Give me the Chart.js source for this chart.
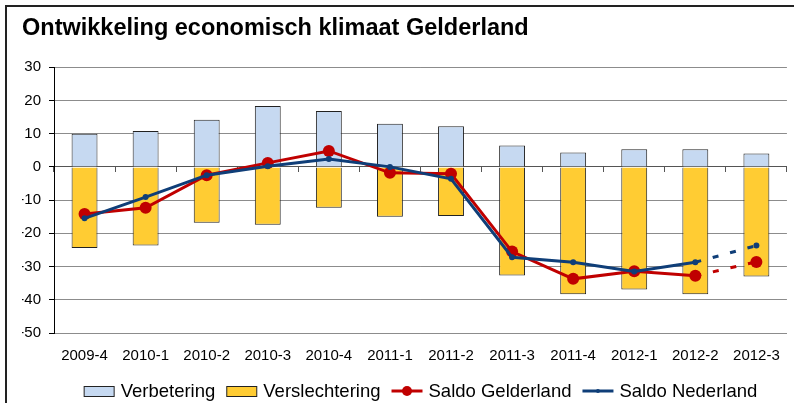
<!DOCTYPE html>
<html>
<head>
<meta charset="utf-8">
<title>Ontwikkeling economisch klimaat Gelderland</title>
<script src="https://cdn.jsdelivr.net/npm/chart.js@4"></script>
<style>
    html, body { margin: 0; padding: 0; background: #fff; overflow: hidden; }
    #wrap { position: relative; width: 794px; height: 403px; }
    #frame { position: absolute; left: 5px; top: 5px; width: 900px; height: 500px; border: 2px solid #222; pointer-events: none; }
    canvas { position: absolute; left: 0; top: 0; }
</style>
</head>
<body>
<div id="wrap">
    <canvas id="klimaatChart" width="794" height="403"></canvas>
    <div id="frame"></div>
</div>
<script>
const FONT = "'Liberation Sans', Arial, Helvetica, sans-serif";

// Data
const quarters = ['2009-4', '2010-1', '2010-2', '2010-3', '2010-4', '2011-1', '2011-2', '2011-3', '2011-4', '2012-1', '2012-2', '2012-3'];
const verbetering = [10.0, 10.8, 14.2, 18.3, 16.8, 13.0, 12.2, 6.4, 4.3, 5.3, 5.3, 4.0];
const verslechtering = [-24.4, -23.7, -16.8, -17.4, -12.3, -15.0, -14.8, -32.7, -38.3, -36.9, -38.3, -33.0];
const saldoGelderland = [-14.2, -12.3, -2.5, 1.2, 4.8, -1.8, -2.1, -25.5, -33.7, -31.4, -32.8, -28.6];
const saldoNederland = [-15.5, -9.1, -2.5, 0.2, 2.4, 0.0, -3.6, -27.2, -28.7, -31.5, -28.7, -23.7];
const yTicks = [30, 20, 10, 0, -10, -20, -30, -40, -50];

const colors = {
    verbetering: '#C6D9F1',
    verslechtering: '#FFCC33',
    barBorder: '#222222',
    gelderland: '#C00000',
    nederland: '#0F3E78',
    grid: '#8C8C8C'
};

// last segment (forecast) is dashed
const lastSegment = quarters.length - 2;
const forecastDash = ctx => ctx.p0DataIndex === lastSegment ? [6, 12] : undefined;

// Legend below the plot, centred on the plot area
const bottomLegend = {
    id: 'bottomLegend',
    afterDraw(chart) {
        const { ctx, chartArea } = chart;
        const symbolW = 31, gap = 6, spacing = 11, y = 391;
        ctx.save();
        ctx.font = '18.5px ' + FONT;
        ctx.textBaseline = 'middle';
        const items = chart.data.datasets.map(ds => ({
            ds: ds,
            w: symbolW + gap + ctx.measureText(ds.label).width
        }));
        const total = items.reduce((s, it) => s + it.w, 0) + spacing * (items.length - 1);
        let x = (chartArea.left + chartArea.right) / 2 - total / 2;

        items.forEach(it => {
            const ds = it.ds;
            if (ds.type === 'line') {
                ctx.strokeStyle = ds.borderColor;
                ctx.lineWidth = ds.borderWidth;
                ctx.beginPath();
                ctx.moveTo(x, y);
                ctx.lineTo(x + symbolW, y);
                ctx.stroke();
                ctx.fillStyle = ds.pointBackgroundColor;
                ctx.beginPath();
                ctx.arc(x + symbolW / 2, y, ds.pointRadius - 1, 0, Math.PI * 2);
                ctx.fill();
            } else {
                ctx.fillStyle = ds.backgroundColor;
                ctx.fillRect(x + 0.5, y - 5 + 0.5, symbolW - 1, 10);
                ctx.strokeStyle = ds.borderColor;
                ctx.lineWidth = 1;
                ctx.strokeRect(x + 0.5, y - 5 + 0.5, symbolW - 1, 10);
            }
            ctx.fillStyle = '#000';
            ctx.fillText(ds.label, x + symbolW + gap, y + 1);
            x += it.w + spacing;
        });
        ctx.restore();
    }
};

const chart = new Chart(document.getElementById('klimaatChart'), {
    data: {
        labels: quarters,
        datasets: [
            {
                type: 'bar',
                label: 'Verbetering',
                data: verbetering,
                stack: 'bars',
                order: 2,
                backgroundColor: colors.verbetering,
                borderColor: colors.barBorder,
                borderWidth: 1,
                categoryPercentage: 0.8,
                barPercentage: 0.53
            },
            {
                type: 'bar',
                label: 'Verslechtering',
                data: verslechtering,
                stack: 'bars',
                order: 2,
                backgroundColor: colors.verslechtering,
                borderColor: colors.barBorder,
                borderWidth: 1,
                categoryPercentage: 0.8,
                barPercentage: 0.53
            },
            {
                type: 'line',
                label: 'Saldo Gelderland',
                data: saldoGelderland,
                stack: 'gld',
                order: 1,
                borderColor: colors.gelderland,
                backgroundColor: colors.gelderland,
                borderWidth: 3,
                pointRadius: 6,
                pointBackgroundColor: colors.gelderland,
                pointBorderWidth: 0,
                tension: 0,
                segment: { borderDash: forecastDash }
            },
            {
                type: 'line',
                label: 'Saldo Nederland',
                data: saldoNederland,
                stack: 'nld',
                order: 0,
                borderColor: colors.nederland,
                backgroundColor: colors.nederland,
                borderWidth: 3,
                pointRadius: 3,
                pointBackgroundColor: colors.nederland,
                pointBorderWidth: 0,
                tension: 0,
                segment: { borderDash: forecastDash }
            }
        ]
    },
    options: {
        responsive: false,
        animation: false,
        layout: { padding: { left: 22, right: 1, top: 0, bottom: 38 } },
        plugins: {
            legend: { display: false },
            tooltip: { enabled: false },
            title: {
                display: true,
                text: 'Ontwikkeling economisch klimaat Gelderland',
                align: 'start',
                color: '#000',
                font: { family: FONT, size: 23.5, weight: 'bold' },
                padding: { top: 14, bottom: 25 }
            }
        },
        scales: {
            x: {
                stacked: true,
                offset: true,
                afterFit: scale => { scale.height = 32; },
                grid: { display: false, drawTicks: false },
                border: { display: true, color: colors.grid },
                ticks: {
                    color: '#000',
                    font: { family: FONT, size: 15 },
                    padding: 14,
                    maxRotation: 0,
                    autoSkip: false
                }
            },
            x2: {
                type: 'category',
                axis: 'x',
                labels: quarters,
                position: { y: 0 },
                offset: true,
                afterFit: scale => { scale.height = 0; },
                grid: { offset: true, drawOnChartArea: false, tickLength: 5, tickColor: '#555' },
                border: { color: '#555', width: 1 },
                ticks: { display: false }
            },
            y: {
                stacked: true,
                min: -50,
                max: 30,
                afterFit: scale => { scale.width = 32; },
                afterBuildTicks: scale => { scale.ticks = yTicks.map(v => ({ value: v })); },
                grid: { color: colors.grid, tickColor: '#000', tickLength: 5 },
                border: { color: '#000', width: 1 },
                ticks: {
                    color: '#000',
                    font: { family: FONT, size: 15 },
                    padding: 8
                }
            }
        }
    },
    plugins: [bottomLegend]
});
</script>
</body>
</html>
